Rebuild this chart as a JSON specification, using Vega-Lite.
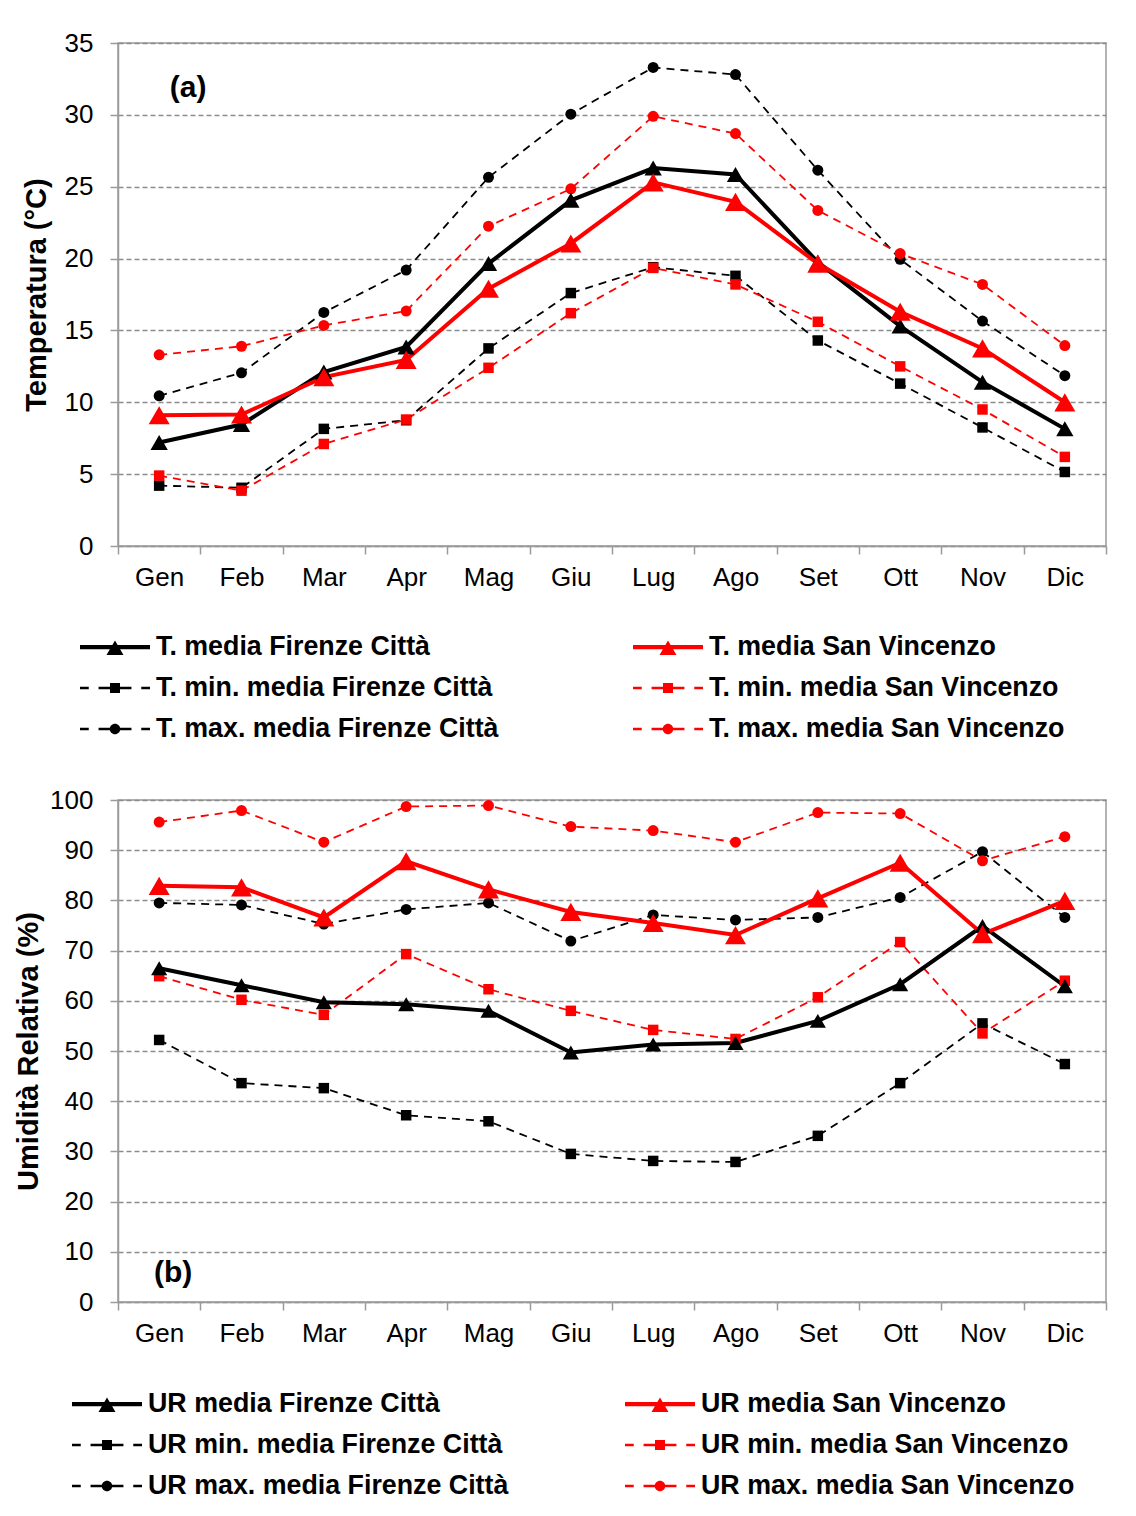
{
  "$schema": "https://vega.github.io/schema/vega-lite/v6.json",
  "background": "white",
  "padding": {"left": 13, "top": 29, "right": 5, "bottom": 5},
  "spacing": 42,
  "config": {
    "font": "Liberation Sans",
    "view": {"stroke": "#9b9b9b", "strokeWidth": 1.5},
    "axis": {"labelFont": "Liberation Sans", "labelFontSize": 26, "labelColor": "#000000", "domainColor": "#9b9b9b", "domainWidth": 1.5, "tickColor": "#9b9b9b", "tickWidth": 1.5, "titleFont": "Liberation Sans", "titleFontSize": 29, "titleFontWeight": "bold", "titleColor": "#000000"},
    "axisX": {"tickSize": 8, "labelPadding": 10, "labelAngle": 0, "grid": false, "tickBand": "extent"},
    "axisY": {"tickSize": 8, "labelPadding": 17, "grid": true, "gridColor": "#8c8c8c", "gridDash": [5, 3], "gridWidth": 1.3}
  },
  "resolve": {"scale": {"color": "independent", "shape": "independent", "fill": "independent", "stroke": "independent", "x": "independent", "y": "independent"}},
  "datasets": {
    "temp": [
      {"m":"Gen","s":"T. media Firenze Città","v":7.2},{"m":"Feb","s":"T. media Firenze Città","v":8.45},{"m":"Mar","s":"T. media Firenze Città","v":12.1},{"m":"Apr","s":"T. media Firenze Città","v":13.85},{"m":"Mag","s":"T. media Firenze Città","v":19.65},{"m":"Giu","s":"T. media Firenze Città","v":24.05},{"m":"Lug","s":"T. media Firenze Città","v":26.3},{"m":"Ago","s":"T. media Firenze Città","v":25.85},{"m":"Set","s":"T. media Firenze Città","v":19.75},{"m":"Ott","s":"T. media Firenze Città","v":15.3},{"m":"Nov","s":"T. media Firenze Città","v":11.4},{"m":"Dic","s":"T. media Firenze Città","v":8.15},
      {"m":"Gen","s":"T. media San Vincenzo","v":9.1},{"m":"Feb","s":"T. media San Vincenzo","v":9.15},{"m":"Mar","s":"T. media San Vincenzo","v":11.75},{"m":"Apr","s":"T. media San Vincenzo","v":12.95},{"m":"Mag","s":"T. media San Vincenzo","v":17.9},{"m":"Giu","s":"T. media San Vincenzo","v":21.05},{"m":"Lug","s":"T. media San Vincenzo","v":25.3},{"m":"Ago","s":"T. media San Vincenzo","v":23.95},{"m":"Set","s":"T. media San Vincenzo","v":19.65},{"m":"Ott","s":"T. media San Vincenzo","v":16.3},{"m":"Nov","s":"T. media San Vincenzo","v":13.75},{"m":"Dic","s":"T. media San Vincenzo","v":10.0},
      {"m":"Gen","s":"T. min. media Firenze Città","v":4.2},{"m":"Feb","s":"T. min. media Firenze Città","v":4.05},{"m":"Mar","s":"T. min. media Firenze Città","v":8.15},{"m":"Apr","s":"T. min. media Firenze Città","v":8.75},{"m":"Mag","s":"T. min. media Firenze Città","v":13.75},{"m":"Giu","s":"T. min. media Firenze Città","v":17.6},{"m":"Lug","s":"T. min. media Firenze Città","v":19.4},{"m":"Ago","s":"T. min. media Firenze Città","v":18.8},{"m":"Set","s":"T. min. media Firenze Città","v":14.3},{"m":"Ott","s":"T. min. media Firenze Città","v":11.3},{"m":"Nov","s":"T. min. media Firenze Città","v":8.25},{"m":"Dic","s":"T. min. media Firenze Città","v":5.15},
      {"m":"Gen","s":"T. min. media San Vincenzo","v":4.9},{"m":"Feb","s":"T. min. media San Vincenzo","v":3.85},{"m":"Mar","s":"T. min. media San Vincenzo","v":7.1},{"m":"Apr","s":"T. min. media San Vincenzo","v":8.8},{"m":"Mag","s":"T. min. media San Vincenzo","v":12.4},{"m":"Giu","s":"T. min. media San Vincenzo","v":16.2},{"m":"Lug","s":"T. min. media San Vincenzo","v":19.35},{"m":"Ago","s":"T. min. media San Vincenzo","v":18.2},{"m":"Set","s":"T. min. media San Vincenzo","v":15.6},{"m":"Ott","s":"T. min. media San Vincenzo","v":12.5},{"m":"Nov","s":"T. min. media San Vincenzo","v":9.5},{"m":"Dic","s":"T. min. media San Vincenzo","v":6.2},
      {"m":"Gen","s":"T. max. media Firenze Città","v":10.45},{"m":"Feb","s":"T. max. media Firenze Città","v":12.05},{"m":"Mar","s":"T. max. media Firenze Città","v":16.25},{"m":"Apr","s":"T. max. media Firenze Città","v":19.2},{"m":"Mag","s":"T. max. media Firenze Città","v":25.65},{"m":"Giu","s":"T. max. media Firenze Città","v":30.05},{"m":"Lug","s":"T. max. media Firenze Città","v":33.3},{"m":"Ago","s":"T. max. media Firenze Città","v":32.8},{"m":"Set","s":"T. max. media Firenze Città","v":26.15},{"m":"Ott","s":"T. max. media Firenze Città","v":19.95},{"m":"Nov","s":"T. max. media Firenze Città","v":15.65},{"m":"Dic","s":"T. max. media Firenze Città","v":11.85},
      {"m":"Gen","s":"T. max. media San Vincenzo","v":13.3},{"m":"Feb","s":"T. max. media San Vincenzo","v":13.9},{"m":"Mar","s":"T. max. media San Vincenzo","v":15.35},{"m":"Apr","s":"T. max. media San Vincenzo","v":16.35},{"m":"Mag","s":"T. max. media San Vincenzo","v":22.25},{"m":"Giu","s":"T. max. media San Vincenzo","v":24.85},{"m":"Lug","s":"T. max. media San Vincenzo","v":29.9},{"m":"Ago","s":"T. max. media San Vincenzo","v":28.7},{"m":"Set","s":"T. max. media San Vincenzo","v":23.35},{"m":"Ott","s":"T. max. media San Vincenzo","v":20.35},{"m":"Nov","s":"T. max. media San Vincenzo","v":18.2},{"m":"Dic","s":"T. max. media San Vincenzo","v":13.95}
    ],
    "ur": [
      {"m":"Gen","s":"UR media Firenze Città","v":66.5},{"m":"Feb","s":"UR media Firenze Città","v":63.1},{"m":"Mar","s":"UR media Firenze Città","v":59.7},{"m":"Apr","s":"UR media Firenze Città","v":59.3},{"m":"Mag","s":"UR media Firenze Città","v":58.0},{"m":"Giu","s":"UR media Firenze Città","v":49.7},{"m":"Lug","s":"UR media Firenze Città","v":51.3},{"m":"Ago","s":"UR media Firenze Città","v":51.6},{"m":"Set","s":"UR media Firenze Città","v":56.0},{"m":"Ott","s":"UR media Firenze Città","v":63.3},{"m":"Nov","s":"UR media Firenze Città","v":74.9},{"m":"Dic","s":"UR media Firenze Città","v":62.9},
      {"m":"Gen","s":"UR media San Vincenzo","v":82.9},{"m":"Feb","s":"UR media San Vincenzo","v":82.6},{"m":"Mar","s":"UR media San Vincenzo","v":76.6},{"m":"Apr","s":"UR media San Vincenzo","v":87.8},{"m":"Mag","s":"UR media San Vincenzo","v":82.2},{"m":"Giu","s":"UR media San Vincenzo","v":77.7},{"m":"Lug","s":"UR media San Vincenzo","v":75.5},{"m":"Ago","s":"UR media San Vincenzo","v":73.1},{"m":"Set","s":"UR media San Vincenzo","v":80.4},{"m":"Ott","s":"UR media San Vincenzo","v":87.5},{"m":"Nov","s":"UR media San Vincenzo","v":73.3},{"m":"Dic","s":"UR media San Vincenzo","v":79.9},
      {"m":"Gen","s":"UR min. media Firenze Città","v":52.2},{"m":"Feb","s":"UR min. media Firenze Città","v":43.6},{"m":"Mar","s":"UR min. media Firenze Città","v":42.6},{"m":"Apr","s":"UR min. media Firenze Città","v":37.2},{"m":"Mag","s":"UR min. media Firenze Città","v":36.0},{"m":"Giu","s":"UR min. media Firenze Città","v":29.5},{"m":"Lug","s":"UR min. media Firenze Città","v":28.1},{"m":"Ago","s":"UR min. media Firenze Città","v":27.9},{"m":"Set","s":"UR min. media Firenze Città","v":33.1},{"m":"Ott","s":"UR min. media Firenze Città","v":43.6},{"m":"Nov","s":"UR min. media Firenze Città","v":55.5},{"m":"Dic","s":"UR min. media Firenze Città","v":47.4},
      {"m":"Gen","s":"UR min. media San Vincenzo","v":64.9},{"m":"Feb","s":"UR min. media San Vincenzo","v":60.2},{"m":"Mar","s":"UR min. media San Vincenzo","v":57.2},{"m":"Apr","s":"UR min. media San Vincenzo","v":69.3},{"m":"Mag","s":"UR min. media San Vincenzo","v":62.3},{"m":"Giu","s":"UR min. media San Vincenzo","v":58.0},{"m":"Lug","s":"UR min. media San Vincenzo","v":54.2},{"m":"Ago","s":"UR min. media San Vincenzo","v":52.4},{"m":"Set","s":"UR min. media San Vincenzo","v":60.7},{"m":"Ott","s":"UR min. media San Vincenzo","v":71.7},{"m":"Nov","s":"UR min. media San Vincenzo","v":53.5},{"m":"Dic","s":"UR min. media San Vincenzo","v":64.0},
      {"m":"Gen","s":"UR max. media Firenze Città","v":79.5},{"m":"Feb","s":"UR max. media Firenze Città","v":79.1},{"m":"Mar","s":"UR max. media Firenze Città","v":75.3},{"m":"Apr","s":"UR max. media Firenze Città","v":78.2},{"m":"Mag","s":"UR max. media Firenze Città","v":79.5},{"m":"Giu","s":"UR max. media Firenze Città","v":71.9},{"m":"Lug","s":"UR max. media Firenze Città","v":77.1},{"m":"Ago","s":"UR max. media Firenze Città","v":76.1},{"m":"Set","s":"UR max. media Firenze Città","v":76.6},{"m":"Ott","s":"UR max. media Firenze Città","v":80.6},{"m":"Nov","s":"UR max. media Firenze Città","v":89.7},{"m":"Dic","s":"UR max. media Firenze Città","v":76.6},
      {"m":"Gen","s":"UR max. media San Vincenzo","v":95.6},{"m":"Feb","s":"UR max. media San Vincenzo","v":97.9},{"m":"Mar","s":"UR max. media San Vincenzo","v":91.6},{"m":"Apr","s":"UR max. media San Vincenzo","v":98.7},{"m":"Mag","s":"UR max. media San Vincenzo","v":98.9},{"m":"Giu","s":"UR max. media San Vincenzo","v":94.7},{"m":"Lug","s":"UR max. media San Vincenzo","v":93.9},{"m":"Ago","s":"UR max. media San Vincenzo","v":91.6},{"m":"Set","s":"UR max. media San Vincenzo","v":97.5},{"m":"Ott","s":"UR max. media San Vincenzo","v":97.3},{"m":"Nov","s":"UR max. media San Vincenzo","v":87.9},{"m":"Dic","s":"UR max. media San Vincenzo","v":92.7}
    ]
  },
  "vconcat": [
    {
      "width": 988,
      "height": 503,
      "data": {"name": "temp"},
      "encoding": {
        "x": {"field": "m", "type": "nominal", "scale": {"type": "band", "domain": ["Gen","Feb","Mar","Apr","Mag","Giu","Lug","Ago","Set","Ott","Nov","Dic"], "paddingInner": 0, "paddingOuter": 0}, "axis": {"title": null}},
        "y": {"field": "v", "type": "quantitative", "scale": {"domain": [0, 35], "nice": false}, "axis": {"values": [0,5,10,15,20,25,30,35], "title": "Temperatura (°C)", "titlePadding": 13}}
      },
      "layer": [
        {
          "transform": [{"filter": {"field": "s", "oneOf": ["T. min. media Firenze Città","T. min. media San Vincenzo","T. max. media Firenze Città","T. max. media San Vincenzo"]}}],
          "mark": {"type": "line", "strokeWidth": 1.8, "strokeDash": [8, 6]},
          "encoding": {"stroke": {"field": "s", "type": "nominal", "scale": {"range": ["#000000","#ff0000","#000000","#ff0000","#000000","#ff0000"]}, "legend": null}}
        },
        {
          "transform": [{"filter": {"field": "s", "oneOf": ["T. media Firenze Città","T. media San Vincenzo"]}}],
          "mark": {"type": "line", "strokeWidth": 4},
          "encoding": {"stroke": {"field": "s", "type": "nominal", "legend": null}}
        },
        {
          "transform": [{"filter": {"field": "s", "oneOf": ["T. min. media Firenze Città","T. min. media San Vincenzo"]}}],
          "mark": {"type": "point", "shape": "square", "filled": true, "size": 110, "opacity": 1},
          "encoding": {"fill": {"field": "s", "type": "nominal", "scale": {"range": ["#000000","#ff0000","#000000","#ff0000","#000000","#ff0000"]}, "legend": null}}
        },
        {
          "transform": [{"filter": {"field": "s", "oneOf": ["T. max. media Firenze Città","T. max. media San Vincenzo"]}}],
          "mark": {"type": "point", "shape": "circle", "filled": true, "size": 121, "opacity": 1},
          "encoding": {"fill": {"field": "s", "type": "nominal", "legend": null}}
        },
        {
          "transform": [{"filter": {"field": "s", "equal": "T. media Firenze Città"}}],
          "mark": {"type": "point", "shape": "triangle-up", "filled": true, "size": 300, "opacity": 1},
          "encoding": {"fill": {"field": "s", "type": "nominal", "legend": null}}
        },
        {
          "transform": [{"filter": {"field": "s", "equal": "T. media San Vincenzo"}}],
          "mark": {"type": "point", "shape": "triangle-up", "filled": true, "size": 441, "opacity": 1},
          "encoding": {"fill": {"field": "s", "type": "nominal", "legend": null}}
        },
        {
          "mark": {"type": "point", "filled": true, "size": 4900, "opacity": 0},
          "encoding": {
            "color": {"field": "s", "type": "nominal", "scale": {"domain": ["T. media Firenze Città","T. min. media Firenze Città","T. max. media Firenze Città","T. media San Vincenzo","T. min. media San Vincenzo","T. max. media San Vincenzo"], "range": ["#000000","#000000","#000000","#ff0000","#ff0000","#ff0000"]}, "legend": {"orient": "none", "legendX": -38, "legendY": 591, "columns": 2, "columnPadding": 134, "rowPadding": 14, "title": null, "labelFont": "Liberation Sans", "labelFontSize": 26.8, "labelFontWeight": "bold", "labelColor": "#000000", "labelLimit": 800, "labelOffset": 6, "symbolSize": 4900, "symbolOpacity": 1, "symbolStrokeWidth": 0, "clipHeight": 26, "symbolOffset": 0}},
            "shape": {"field": "s", "type": "nominal", "scale": {"domain": ["T. media Firenze Città","T. min. media Firenze Città","T. max. media Firenze Città","T. media San Vincenzo","T. min. media San Vincenzo","T. max. media San Vincenzo"], "range": [
              "M-1,-0.063L1,-0.063L1,0.063L-1,0.063Z M-0.243,0.229L0,-0.186L0.243,0.229Z",
              "M-1,-0.039L-0.75,-0.039L-0.75,0.039L-1,0.039Z M-0.47,-0.039L0.47,-0.039L0.47,0.039L-0.47,0.039Z M0.75,-0.039L1,-0.039L1,0.039L0.75,0.039Z M-0.143,-0.143L0.143,-0.143L0.143,0.143L-0.143,0.143Z",
              "M-1,-0.039L-0.75,-0.039L-0.75,0.039L-1,0.039Z M-0.47,-0.039L0.47,-0.039L0.47,0.039L-0.47,0.039Z M0.75,-0.039L1,-0.039L1,0.039L0.75,0.039Z M-0.15,0A0.15,0.15 0 1,1 0.15,0A0.15,0.15 0 1,1 -0.15,0Z",
              "M-1,-0.063L1,-0.063L1,0.063L-1,0.063Z M-0.243,0.229L0,-0.186L0.243,0.229Z",
              "M-1,-0.039L-0.75,-0.039L-0.75,0.039L-1,0.039Z M-0.47,-0.039L0.47,-0.039L0.47,0.039L-0.47,0.039Z M0.75,-0.039L1,-0.039L1,0.039L0.75,0.039Z M-0.143,-0.143L0.143,-0.143L0.143,0.143L-0.143,0.143Z",
              "M-1,-0.039L-0.75,-0.039L-0.75,0.039L-1,0.039Z M-0.47,-0.039L0.47,-0.039L0.47,0.039L-0.47,0.039Z M0.75,-0.039L1,-0.039L1,0.039L0.75,0.039Z M-0.15,0A0.15,0.15 0 1,1 0.15,0A0.15,0.15 0 1,1 -0.15,0Z"
            ]}, "legend": {"orient": "none", "legendX": -38, "legendY": 591, "columns": 2, "columnPadding": 134, "rowPadding": 14, "title": null, "labelFont": "Liberation Sans", "labelFontSize": 26.8, "labelFontWeight": "bold", "labelColor": "#000000", "labelLimit": 800, "labelOffset": 6, "symbolSize": 4900, "symbolOpacity": 1, "symbolStrokeWidth": 0, "clipHeight": 26, "symbolOffset": 0}}
          }
        },
        {
          "data": {"values": [{"m": "Gen", "v": 31.9, "t": "(a)"}]},
          "mark": {"type": "text", "font": "Liberation Sans", "fontSize": 30, "fontWeight": "bold", "dx": 29, "align": "center", "baseline": "middle", "color": "#000000"},
          "encoding": {"text": {"field": "t"}}
        }
      ]
    },
    {
      "width": 988,
      "height": 502,
      "data": {"name": "ur"},
      "encoding": {
        "x": {"field": "m", "type": "nominal", "scale": {"type": "band", "domain": ["Gen","Feb","Mar","Apr","Mag","Giu","Lug","Ago","Set","Ott","Nov","Dic"], "paddingInner": 0, "paddingOuter": 0}, "axis": {"title": null}},
        "y": {"field": "v", "type": "quantitative", "scale": {"domain": [0, 100], "nice": false}, "axis": {"values": [0,10,20,30,40,50,60,70,80,90,100], "title": "Umidità Relativa (%)", "titlePadding": 6}}
      },
      "layer": [
        {
          "transform": [{"filter": {"field": "s", "oneOf": ["UR min. media Firenze Città","UR min. media San Vincenzo","UR max. media Firenze Città","UR max. media San Vincenzo"]}}],
          "mark": {"type": "line", "strokeWidth": 1.8, "strokeDash": [8, 6]},
          "encoding": {"stroke": {"field": "s", "type": "nominal", "scale": {"range": ["#000000","#ff0000","#000000","#ff0000","#000000","#ff0000"]}, "legend": null}}
        },
        {
          "transform": [{"filter": {"field": "s", "oneOf": ["UR media Firenze Città","UR media San Vincenzo"]}}],
          "mark": {"type": "line", "strokeWidth": 4},
          "encoding": {"stroke": {"field": "s", "type": "nominal", "legend": null}}
        },
        {
          "transform": [{"filter": {"field": "s", "oneOf": ["UR min. media Firenze Città","UR min. media San Vincenzo"]}}],
          "mark": {"type": "point", "shape": "square", "filled": true, "size": 110, "opacity": 1},
          "encoding": {"fill": {"field": "s", "type": "nominal", "scale": {"range": ["#000000","#ff0000","#000000","#ff0000","#000000","#ff0000"]}, "legend": null}}
        },
        {
          "transform": [{"filter": {"field": "s", "oneOf": ["UR max. media Firenze Città","UR max. media San Vincenzo"]}}],
          "mark": {"type": "point", "shape": "circle", "filled": true, "size": 121, "opacity": 1},
          "encoding": {"fill": {"field": "s", "type": "nominal", "legend": null}}
        },
        {
          "transform": [{"filter": {"field": "s", "equal": "UR media Firenze Città"}}],
          "mark": {"type": "point", "shape": "triangle-up", "filled": true, "size": 260, "opacity": 1},
          "encoding": {"fill": {"field": "s", "type": "nominal", "legend": null}}
        },
        {
          "transform": [{"filter": {"field": "s", "equal": "UR media San Vincenzo"}}],
          "mark": {"type": "point", "shape": "triangle-up", "filled": true, "size": 441, "opacity": 1},
          "encoding": {"fill": {"field": "s", "type": "nominal", "legend": null}}
        },
        {
          "mark": {"type": "point", "filled": true, "size": 4900, "opacity": 0},
          "encoding": {
            "color": {"field": "s", "type": "nominal", "scale": {"domain": ["UR media Firenze Città","UR min. media Firenze Città","UR max. media Firenze Città","UR media San Vincenzo","UR min. media San Vincenzo","UR max. media San Vincenzo"], "range": ["#000000","#000000","#000000","#ff0000","#ff0000","#ff0000"]}, "legend": {"orient": "none", "legendX": -46, "legendY": 591, "columns": 2, "columnPadding": 116, "rowPadding": 14, "title": null, "labelFont": "Liberation Sans", "labelFontSize": 26.8, "labelFontWeight": "bold", "labelColor": "#000000", "labelLimit": 800, "labelOffset": 6, "symbolSize": 4900, "symbolOpacity": 1, "symbolStrokeWidth": 0, "clipHeight": 26, "symbolOffset": 0}},
            "shape": {"field": "s", "type": "nominal", "scale": {"domain": ["UR media Firenze Città","UR min. media Firenze Città","UR max. media Firenze Città","UR media San Vincenzo","UR min. media San Vincenzo","UR max. media San Vincenzo"], "range": [
              "M-1,-0.063L1,-0.063L1,0.063L-1,0.063Z M-0.243,0.229L0,-0.186L0.243,0.229Z",
              "M-1,-0.039L-0.75,-0.039L-0.75,0.039L-1,0.039Z M-0.47,-0.039L0.47,-0.039L0.47,0.039L-0.47,0.039Z M0.75,-0.039L1,-0.039L1,0.039L0.75,0.039Z M-0.143,-0.143L0.143,-0.143L0.143,0.143L-0.143,0.143Z",
              "M-1,-0.039L-0.75,-0.039L-0.75,0.039L-1,0.039Z M-0.47,-0.039L0.47,-0.039L0.47,0.039L-0.47,0.039Z M0.75,-0.039L1,-0.039L1,0.039L0.75,0.039Z M-0.15,0A0.15,0.15 0 1,1 0.15,0A0.15,0.15 0 1,1 -0.15,0Z",
              "M-1,-0.063L1,-0.063L1,0.063L-1,0.063Z M-0.243,0.229L0,-0.186L0.243,0.229Z",
              "M-1,-0.039L-0.75,-0.039L-0.75,0.039L-1,0.039Z M-0.47,-0.039L0.47,-0.039L0.47,0.039L-0.47,0.039Z M0.75,-0.039L1,-0.039L1,0.039L0.75,0.039Z M-0.143,-0.143L0.143,-0.143L0.143,0.143L-0.143,0.143Z",
              "M-1,-0.039L-0.75,-0.039L-0.75,0.039L-1,0.039Z M-0.47,-0.039L0.47,-0.039L0.47,0.039L-0.47,0.039Z M0.75,-0.039L1,-0.039L1,0.039L0.75,0.039Z M-0.15,0A0.15,0.15 0 1,1 0.15,0A0.15,0.15 0 1,1 -0.15,0Z"
            ]}, "legend": {"orient": "none", "legendX": -46, "legendY": 591, "columns": 2, "columnPadding": 116, "rowPadding": 14, "title": null, "labelFont": "Liberation Sans", "labelFontSize": 26.8, "labelFontWeight": "bold", "labelColor": "#000000", "labelLimit": 800, "labelOffset": 6, "symbolSize": 4900, "symbolOpacity": 1, "symbolStrokeWidth": 0, "clipHeight": 26, "symbolOffset": 0}}
          }
        },
        {
          "data": {"values": [{"m": "Gen", "v": 5.8, "t": "(b)"}]},
          "mark": {"type": "text", "font": "Liberation Sans", "fontSize": 30, "fontWeight": "bold", "dx": 14, "align": "center", "baseline": "middle", "color": "#000000"},
          "encoding": {"text": {"field": "t"}}
        }
      ]
    }
  ]
}
